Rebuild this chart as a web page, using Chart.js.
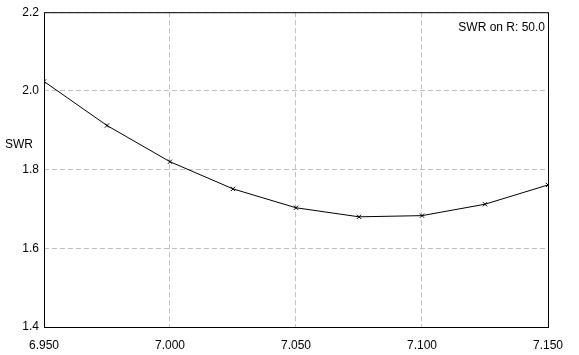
<!DOCTYPE html>
<html>
<head>
<meta charset="utf-8">
<script src="https://cdn.jsdelivr.net/npm/chart.js@4"></script>
<style>
  html, body { margin: 0; padding: 0; background: #fff; }
  #wrap { width: 579px; height: 355px; }
</style>
</head>
<body>
<div id="wrap"><canvas id="swrChart" width="579" height="355"></canvas></div>
<script>
/* ---------------- DATA ---------------- */

const freqs = [6.95, 6.975, 7.0, 7.025, 7.05, 7.075, 7.1, 7.125, 7.15];
const swrValues = [2.024, 1.912, 1.82, 1.751, 1.703, 1.68, 1.683, 1.712, 1.761];

const xTicks = [6.95, 7.0, 7.05, 7.1, 7.15];
const yTicks = [1.4, 1.6, 1.8, 2.0, 2.2];

const yLabel = "SWR";
const noteText = "SWR on R: 50.0";

const FONT = "'Liberation Sans', Arial, sans-serif";

/* ---------------- EXTRA TEXT ---------------- */

const labelsPlugin = {
  id: "labels",
  afterDraw(chart) {
    const ctx = chart.ctx;
    const area = chart.chartArea;
    ctx.save();
    ctx.font = "12px " + FONT;
    ctx.fillStyle = "#000";
    ctx.textBaseline = "middle";

    ctx.textAlign = "left";
    ctx.fillText(yLabel, 5, 145);

    ctx.textAlign = "right";
    ctx.fillText(noteText, area.right - 3, area.top + 15);
    ctx.restore();
  },
};

/* ---------------- CHART ---------------- */

const ctx = document.getElementById("swrChart").getContext("2d");

new Chart(ctx, {
  type: "line",
  data: {
    datasets: [
      {
        data: freqs.map((f, i) => ({ x: f, y: swrValues[i] })),
        borderColor: "#000",
        borderWidth: 1,
        tension: 0,
        pointStyle: "crossRot",
        pointRadius: 3,
        pointBorderColor: "#000",
        pointBorderWidth: 1,
        fill: false,
      },
    ],
  },
  options: {
    responsive: false,
    animation: false,
    layout: { padding: { left: 0, right: 31, top: 10, bottom: 0 } },
    plugins: {
      legend: { display: false },
      tooltip: { enabled: false },
    },
    scales: {
      x: {
        type: "linear",
        min: 6.95,
        max: 7.15,
        afterFit: (s) => { s.height = 28; },
        afterBuildTicks: (s) => { s.ticks = xTicks.map((v) => ({ value: v })); },
        border: { display: false, dash: [5, 3] },
        grid: {
          color: "#c0c0c0",
          drawTicks: false,
        },
        ticks: {
          color: "#000",
          font: { size: 12, family: FONT },
          padding: 11,
          maxRotation: 0,
          callback: (v) => v.toFixed(3),
        },
      },
      y: {
        min: 1.4,
        max: 2.2,
        afterFit: (s) => { s.width = 44; },
        afterBuildTicks: (s) => { s.ticks = yTicks.map((v) => ({ value: v })); },
        border: { display: false, dash: [5, 3] },
        grid: {
          color: "#c0c0c0",
          drawTicks: false,
        },
        ticks: {
          color: "#000",
          font: { size: 12, family: FONT },
          padding: 5,
          callback: (v) => v.toFixed(1),
        },
      },
    },
  },
  plugins: [
    {
      id: "frame",
      beforeDatasetsDraw(chart) {
        const c = chart.ctx;
        const a = chart.chartArea;
        c.save();
        c.strokeStyle = "#000";
        c.lineWidth = 1;
        c.strokeRect(a.left + 0.5, a.top + 0.5, a.right - a.left, a.bottom - a.top);
        c.restore();
      },
    },
    labelsPlugin,
  ],
});
</script>
</body>
</html>
